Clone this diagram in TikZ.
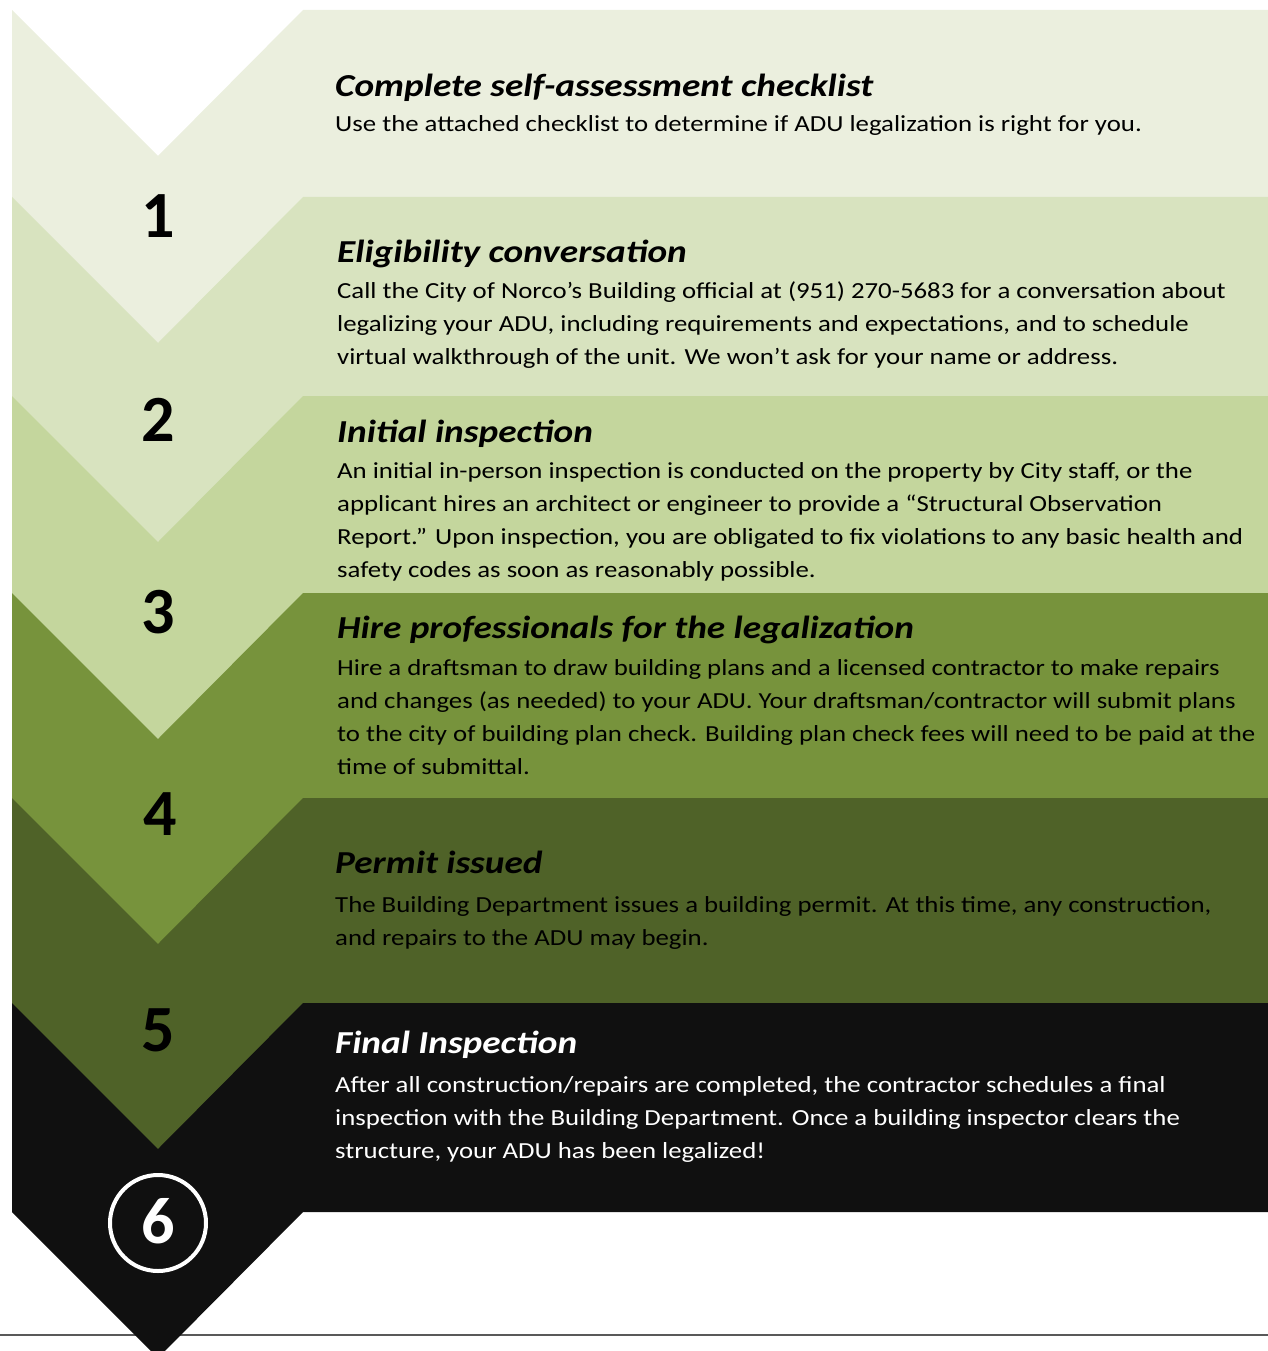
\documentclass[tikz,border=0pt]{standalone}
\usepackage{fontspec}
\setmainfont{Carlito}
\newfontfamily\stepfont{Carlito}[FakeStretch=1.165]

\definecolor{stepone}{HTML}{EBEFDE}
\definecolor{steptwo}{HTML}{D8E3BF}
\definecolor{stepthree}{HTML}{C4D69D}
\definecolor{stepfour}{HTML}{77933C}
\definecolor{stepfive}{HTML}{4F6228}
\definecolor{stepsix}{HTML}{101010}

% one band: notch at the top, point at the bottom
\newcommand{\stepband}[3]{%
  \fill[#1] (12,#2) -- (158,#2+146) -- (303,#2) -- (1268,#2)
    -- (1268,#3) -- (303,#3) -- (158,#3+146) -- (12,#3) -- cycle;}

\tikzset{
  stepnum/.style={
    anchor=base,
    inner sep=0pt,
    font=\fontsize{66}{66}\selectfont\bfseries
  },
  steptitle/.style={
    anchor=base west,
    inner sep=0pt,
    font=\stepfont\fontsize{32}{32}\selectfont\bfseries\itshape
  },
  % anchored at the baseline of the last line
  steptext/.style={
    anchor=base west,
    inner sep=0pt,
    align=left,
    font=\stepfont\fontsize{23}{33}\selectfont
  }
}

\begin{document}
\begin{tikzpicture}[x=1pt, y=-1pt]
  \useasboundingbox (0,0) rectangle (1268,1351);
  \clip (0,0) rectangle (1268,1351);

  \draw[line width=1.5pt, black!65] (0,1335) -- (1268,1335);

  \stepband{stepone}{10}{198}
  \stepband{steptwo}{197}{397}
  \stepband{stepthree}{396}{594}
  \stepband{stepfour}{593}{799}
  \stepband{stepfive}{798}{1004}
  \stepband{stepsix}{1003}{1212}

  % numbers
  \node[stepnum] (n1) at (158,237) {1};
  \node[stepnum] (n2) at (158,441) {2};
  \node[stepnum] (n3) at (158,633) {3};
  \node[stepnum] (n4) at (160,835) {4};
  \node[stepnum] (n5) at (158,1051) {5};
  \node[stepnum, text=white] (n6) at (158,1243) {6};
  \draw[white, line width=4pt] (158,1223) circle (48);

  % step texts
  \node[steptitle] (t1) at (335,97) {Complete self-assessment checklist};
  \node[steptext] (d1) at (335,132)
    {Use the attached checklist to determine if ADU legalization is right for you.};

  \node[steptitle] (t2) at (337,262) {Eligibility conversation};
  \node[steptext] (d2) at (337,364)
    {Call the City of Norco’s Building official at (951) 270-5683 for a conversation about\\
     legalizing your ADU, including requirements and expectations, and to schedule\\
     virtual walkthrough of the unit. We won’t ask for your name or address.};

  \node[steptitle] (t3) at (337,442) {Initial inspection};
  \node[steptext] (d3) at (337,577)
    {An initial in-person inspection is conducted on the property by City staff, or the\\
     applicant hires an architect or engineer to provide a “Structural Observation\\
     Report.” Upon inspection, you are obligated to fix violations to any basic health and\\
     safety codes as soon as reasonably possible.};

  \node[steptitle] (t4) at (337,638) {Hire professionals for the legalization};
  \node[steptext] (d4) at (337,774)
    {Hire a draftsman to draw building plans and a licensed contractor to make repairs\\
     and changes (as needed) to your ADU. Your draftsman/contractor will submit plans\\
     to the city of building plan check. Building plan check fees will need to be paid at the\\
     time of submittal.};

  \node[steptitle] (t5) at (335,873) {Permit issued};
  \node[steptext] (d5) at (335,945)
    {The Building Department issues a building permit. At this time, any construction,\\
     and repairs to the ADU may begin.};

  \node[steptitle, text=white] (t6) at (335,1053) {Final Inspection};
  \node[steptext, text=white] (d6) at (335,1158)
    {After all construction/repairs are completed, the contractor schedules a final\\
     inspection with the Building Department. Once a building inspector clears the\\
     structure, your ADU has been legalized!};
\end{tikzpicture}
\end{document}
